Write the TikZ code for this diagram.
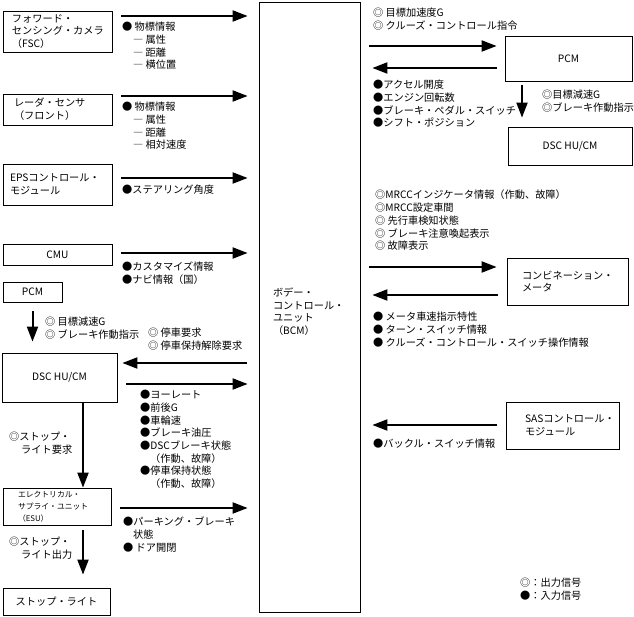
\documentclass[tikz,border=0pt]{standalone}
\usepackage{fontspec}
\setmainfont{Noto Sans CJK JP}
\usetikzlibrary{arrows.meta}

\begin{document}
\begin{tikzpicture}[x=1pt, y=-1pt,
      box/.style={draw, line width=0.8pt, inner sep=0pt,
                  font=\fontsize{10.2}{12.7}\selectfont, align=left},
      sig/.style={anchor=north west, inner sep=0pt, align=left,
                  font=\fontsize{10.2}{12.7}\selectfont},
      arr/.style={-{Triangle[length=15pt,width=11pt]}, line width=2pt,
                  shorten <=9pt, shorten >=11pt}
  ]
    \useasboundingbox (0,0) rectangle (634,617);
    % central unit
    \node[box, minimum width=101pt, minimum height=610pt, text width=73pt,
          text depth=30pt] (bcm) at (309.5,307)
      {ボデー・\\コントロール・\\ユニット\\（BCM）};

    % left column
    \node[box, minimum width=109pt, minimum height=41pt, text width=91pt] (fsc) at (57.5,31.5)
      {フォワード・\\センシング・カメラ\\（FSC）};
    \node[box, minimum width=109pt, minimum height=31pt, text width=87pt] (rad) at (57.5,109.5)
      {レーダ・センサ\\（フロント）};
    \node[box, minimum width=109pt, minimum height=41pt, text width=95pt] (eps) at (57.5,184.5)
      {EPSコントロール・\\モジュール};
    \node[box, minimum width=109pt, minimum height=21pt] (cmu) at (57.5,254.5) {CMU};
    \node[box, minimum width=59pt, minimum height=20pt] (pcml) at (32.5,292) {PCM};
    \node[box, minimum width=115pt, minimum height=49pt] (dscl) at (59.5,377.5) {DSC HU/CM};
    \node[box, minimum width=108pt, minimum height=37pt, text width=78pt,
          font=\fontsize{7.8}{12}\selectfont] (esu) at (57,506.5)
      {エレクトリカル・\\サプライ・ユニット\\（ESU）};
    \node[box, minimum width=107pt, minimum height=27pt] (stop) at (56.5,601.5) {ストップ・ライト};

    % right column
    \node[box, minimum width=127pt, minimum height=45pt] (pcmr) at (568.5,58.5) {PCM};
    \node[box, minimum width=124pt, minimum height=38pt] (dscr) at (570,146) {DSC HU/CM};
    \node[box, minimum width=121pt, minimum height=47pt, text width=91pt] (comb) at (567.5,281.5)
      {コンビネーション・\\メータ};
    \node[box, minimum width=113pt, minimum height=47pt, text width=75pt] (sas) at (562.5,425.5)
      {SASコントロール・\\モジュール};

    % connectors, left side
    \draw[arr] (fsc.east |- 0,16) -- (bcm.west |- 0,16);
    \draw[arr] (rad.east |- 0,96) -- (bcm.west |- 0,96);
    \draw[arr] (eps.east |- 0,178) -- (bcm.west |- 0,178);
    \draw[arr] (cmu.east |- 0,253) -- (bcm.west |- 0,253);
    \draw[arr] (pcml) -- (pcml |- dscl.north);
    \draw[arr, shorten <=12pt, shorten >=5pt] (bcm.west |- 0,363) -- (dscl.east |- 0,363);
    \draw[arr] (dscl.east |- 0,384) -- (bcm.west |- 0,384);
    \draw[arr, shorten <=0pt, shorten >=0pt] (dscl.south -| 83,0) -- (esu.north -| 83,0);
    \draw[arr] (esu.east |- 0,508) -- (bcm.west |- 0,508);
    \draw[arr, shorten <=5pt, shorten >=13pt] (esu.south -| 83,0) -- (stop.north -| 83,0);

    % connectors, right side
    \draw[arr, shorten >=8pt] (bcm.east |- 0,46) -- (pcmr.west |- 0,46);
    \draw[arr, shorten <=8pt, shorten >=12pt] (pcmr.west |- 0,68) -- (bcm.east |- 0,68);
    \draw[arr, shorten <=4pt, shorten >=9pt] (pcmr.south -| 522,0) -- (dscr.north -| 522,0);
    \draw[arr, shorten >=10pt] (bcm.east |- 0,267) -- (comb.west |- 0,267);
    \draw[arr, shorten >=12pt] (comb.west |- 0,295) -- (bcm.east |- 0,295);
    \draw[arr, shorten >=12pt] (sas.west |- 0,425) -- (bcm.east |- 0,425);

    % signal lists
    \node[sig] (fsci) at (122,22) {● 物標情報\\\hspace*{11pt}― 属性\\\hspace*{11pt}― 距離\\\hspace*{11pt}― 横位置};
    \node[sig] (radi) at (122,102) {● 物標情報\\\hspace*{11pt}― 属性\\\hspace*{11pt}― 距離\\\hspace*{11pt}― 相対速度};
    \node[sig] (epsi) at (122,185) {●ステアリング角度};
    \node[sig] (cmui) at (122,262) {●カスタマイズ情報\\●ナビ情報（国）};
    \node[sig] (pcmlo) at (45,317) {◎ 目標減速G\\◎ ブレーキ作動指示};
    \node[sig] (dsclo) at (148,328) {◎ 停車要求\\◎ 停車保持解除要求};
    \node[sig] (dscli) at (140,390) {●ヨーレート\\●前後G\\●車輪速\\●ブレーキ油圧\\●DSCブレーキ状態\\
      \hspace*{10pt}（作動、故障）\\●停車保持状態\\\hspace*{10pt}（作動、故障）};
    \node[sig] (dscso) at (9,432) {◎ストップ・\\\hspace*{12pt}ライト要求};
    \node[sig] (esui) at (123,517) {●パーキング・ブレーキ\\\hspace*{10pt}状態\\● ドア開閉};
    \node[sig] (esuo) at (9,537) {◎ストップ・\\\hspace*{12pt}ライト出力};
    \node[sig] (pcmro) at (373,8) {◎ 目標加速度G\\◎ クルーズ・コントロール指令};
    \node[sig] (pcmri) at (373,80) {●アクセル開度\\●エンジン回転数\\●ブレーキ・ペダル・スイッチ\\●シフト・ポジション};
    \node[sig] (pcmdo) at (542,90) {◎目標減速G\\◎ブレーキ作動指示};
    \node[sig] (combo) at (375,190) {◎MRCCインジケータ情報（作動、故障）\\◎MRCC設定車間\\◎ 先行車検知状態\\◎ ブレーキ注意喚起表示\\◎ 故障表示};
    \node[sig] (combi) at (373,312) {● メータ車速指示特性\\● ターン・スイッチ情報\\● クルーズ・コントロール・スイッチ操作情報};
    \node[sig] (sasi) at (373,439) {●バックル・スイッチ情報};
    \node[sig] (legend) at (520,578) {◎：出力信号\\●：入力信号};
  \end{tikzpicture}
\end{document}
